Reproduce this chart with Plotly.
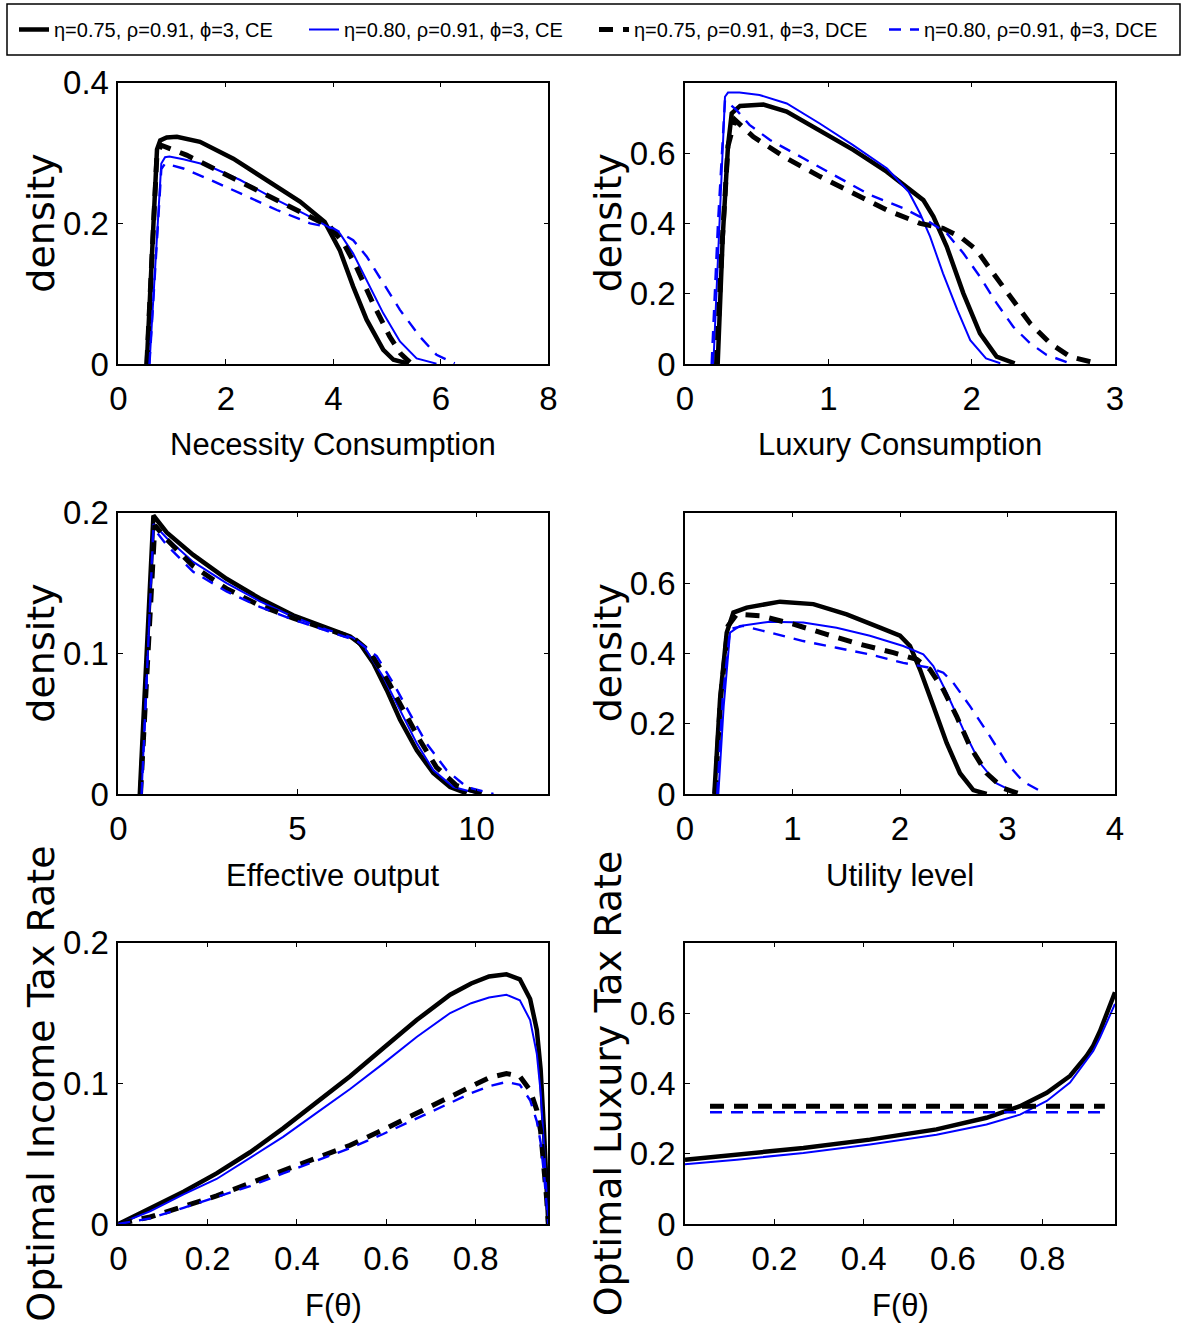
import plotly.graph_objects as go

W, H = 1188, 1331

# ---------------- data ----------------
legend_names = ["η=0.75, ρ=0.91, ϕ=3, CE", "η=0.80, ρ=0.91, ϕ=3, CE",
                "η=0.75, ρ=0.91, ϕ=3, DCE", "η=0.80, ρ=0.91, ϕ=3, DCE"]

# Panel 1: Necessity Consumption density
nec_ce75_x = [0.53, 0.62, 0.72, 0.78, 0.90, 1.09, 1.52, 2.14, 2.76, 3.38, 3.84, 4.12, 4.37, 4.62, 4.93, 5.12, 5.40]
nec_ce75_y = [0.0, 0.15, 0.305, 0.318, 0.322, 0.323, 0.316, 0.292, 0.262, 0.231, 0.202, 0.162, 0.110, 0.063, 0.020, 0.006, 0.0005]
nec_ce80_x = [0.58, 0.70, 0.80, 0.87, 0.95, 1.21, 1.64, 2.26, 2.88, 3.50, 3.88, 4.12, 4.37, 4.62, 4.93, 5.24, 5.55, 5.92]
nec_ce80_y = [0.0, 0.15, 0.285, 0.294, 0.295, 0.291, 0.283, 0.262, 0.236, 0.212, 0.196, 0.186, 0.157, 0.119, 0.072, 0.032, 0.008, 0.0005]
nec_dce75_x = [0.53, 0.62, 0.72, 0.80, 1.27, 1.83, 2.45, 3.07, 3.69, 3.94, 4.19, 4.43, 4.74, 5.05, 5.25, 5.43]
nec_dce75_y = [0.0, 0.15, 0.300, 0.311, 0.297, 0.276, 0.252, 0.228, 0.205, 0.195, 0.172, 0.138, 0.086, 0.039, 0.015, 0.002]
nec_dce80_x = [0.58, 0.70, 0.80, 0.87, 1.21, 1.71, 2.33, 2.95, 3.57, 4.00, 4.37, 4.62, 4.93, 5.24, 5.61, 5.92, 6.26]
nec_dce80_y = [0.0, 0.15, 0.277, 0.285, 0.278, 0.262, 0.240, 0.219, 0.200, 0.193, 0.176, 0.153, 0.115, 0.077, 0.039, 0.013, 0.001]

# Panel 2: Luxury Consumption density
lux_ce75_x = [0.228, 0.263, 0.30, 0.326, 0.384, 0.547, 0.709, 0.942, 1.174, 1.407, 1.57, 1.663, 1.733, 1.826, 1.942, 2.058, 2.174, 2.30]
lux_ce75_y = [0.0, 0.36, 0.62, 0.713, 0.734, 0.738, 0.718, 0.665, 0.609, 0.547, 0.495, 0.466, 0.419, 0.334, 0.201, 0.087, 0.021, 0.002]
lux_ce80_x = [0.198, 0.24, 0.279, 0.30, 0.38, 0.52, 0.71, 0.94, 1.17, 1.41, 1.56, 1.64, 1.71, 1.80, 1.90, 1.99, 2.10, 2.20]
lux_ce80_y = [0.0, 0.40, 0.760, 0.772, 0.772, 0.765, 0.741, 0.684, 0.623, 0.556, 0.490, 0.428, 0.362, 0.258, 0.154, 0.068, 0.016, 0.002]
lux_dce75_x = [0.22, 0.26, 0.30, 0.349, 0.477, 0.709, 0.942, 1.174, 1.407, 1.64, 1.80, 1.92, 2.035, 2.15, 2.267, 2.407, 2.547, 2.686, 2.872]
lux_dce75_y = [0.0, 0.35, 0.62, 0.694, 0.646, 0.585, 0.533, 0.485, 0.438, 0.400, 0.386, 0.362, 0.324, 0.258, 0.191, 0.116, 0.059, 0.021, 0.002]
lux_dce80_x = [0.186, 0.23, 0.279, 0.36, 0.45, 0.593, 0.826, 1.058, 1.29, 1.523, 1.686, 1.826, 1.942, 2.058, 2.174, 2.29, 2.407, 2.523, 2.686]
lux_dce80_y = [0.0, 0.40, 0.751, 0.722, 0.680, 0.637, 0.585, 0.533, 0.481, 0.443, 0.409, 0.372, 0.315, 0.248, 0.173, 0.106, 0.059, 0.026, 0.002]

# Panel 3: Effective output density
eff_ce75_x = [0.60, 0.79, 0.98, 1.35, 2.09, 3.02, 3.95, 4.88, 5.81, 6.47, 6.74, 7.12, 7.49, 7.86, 8.33, 8.79, 9.26, 9.72]
eff_ce75_y = [0.0, 0.10, 0.198, 0.186, 0.170, 0.153, 0.139, 0.127, 0.118, 0.112, 0.107, 0.093, 0.074, 0.053, 0.031, 0.015, 0.005, 0.0005]
eff_ce80_x = [0.65, 0.82, 0.98, 1.35, 2.09, 3.02, 3.95, 4.88, 5.81, 6.56, 6.93, 7.40, 7.86, 8.33, 8.79, 9.35, 10.09]
eff_ce80_y = [0.0, 0.10, 0.192, 0.182, 0.165, 0.150, 0.137, 0.126, 0.117, 0.111, 0.102, 0.083, 0.060, 0.036, 0.017, 0.005, 0.0]
eff_dce75_x = [0.62, 0.82, 1.02, 1.35, 2.09, 3.02, 3.95, 4.88, 5.81, 6.56, 7.02, 7.49, 7.95, 8.42, 8.88, 9.44, 10.19]
eff_dce75_y = [0.0, 0.10, 0.191, 0.181, 0.162, 0.146, 0.134, 0.125, 0.117, 0.111, 0.101, 0.082, 0.060, 0.038, 0.019, 0.006, 0.0]
eff_dce80_x = [0.65, 0.82, 0.98, 1.35, 2.09, 3.02, 3.95, 4.88, 5.81, 6.65, 7.21, 7.67, 8.14, 8.60, 9.16, 9.72, 10.47]
eff_dce80_y = [0.0, 0.10, 0.189, 0.177, 0.158, 0.144, 0.133, 0.124, 0.116, 0.109, 0.098, 0.079, 0.057, 0.036, 0.017, 0.005, 0.0]

# Panel 4: Utility level density
util_ce75_x = [0.273, 0.326, 0.388, 0.45, 0.574, 0.884, 1.194, 1.504, 1.814, 2.0, 2.093, 2.186, 2.31, 2.434, 2.558, 2.682, 2.806]
util_ce75_y = [0.0, 0.27, 0.459, 0.516, 0.530, 0.547, 0.540, 0.511, 0.473, 0.450, 0.421, 0.354, 0.250, 0.145, 0.059, 0.011, 0.0]
util_ce80_x = [0.31, 0.36, 0.419, 0.51, 0.79, 1.10, 1.41, 1.72, 2.03, 2.217, 2.31, 2.434, 2.589, 2.744, 2.899, 3.085]
util_ce80_y = [0.0, 0.25, 0.459, 0.478, 0.490, 0.488, 0.473, 0.450, 0.421, 0.397, 0.364, 0.288, 0.183, 0.088, 0.030, 0.002]
util_dce75_x = [0.28, 0.33, 0.40, 0.48, 0.70, 1.008, 1.318, 1.628, 1.938, 2.155, 2.279, 2.403, 2.527, 2.651, 2.806, 2.961, 3.116]
util_dce75_y = [0.0, 0.27, 0.478, 0.511, 0.507, 0.483, 0.454, 0.426, 0.402, 0.383, 0.354, 0.297, 0.221, 0.135, 0.059, 0.016, 0.0]
util_dce80_x = [0.30, 0.35, 0.419, 0.54, 0.79, 1.10, 1.41, 1.72, 2.03, 2.279, 2.403, 2.496, 2.651, 2.837, 2.992, 3.147, 3.333]
util_dce80_y = [0.0, 0.27, 0.469, 0.478, 0.459, 0.435, 0.416, 0.397, 0.373, 0.359, 0.345, 0.316, 0.250, 0.164, 0.088, 0.035, 0.004]

# Panel 5: Optimal income tax rate vs F(theta)
inc_f = [0, 0.071, 0.146, 0.22, 0.295, 0.369, 0.444, 0.519, 0.593, 0.668, 0.743, 0.79, 0.83, 0.869, 0.899, 0.922, 0.937, 0.9455, 0.953, 0.959, 0.9627]
inc_ce75 = [0, 0.011, 0.023, 0.036, 0.051, 0.068, 0.086, 0.105, 0.125, 0.145, 0.163, 0.171, 0.176, 0.1775, 0.174, 0.160, 0.138, 0.110, 0.067, 0.029, 0]
inc_ce80 = [0, 0.009, 0.021, 0.032, 0.047, 0.062, 0.079, 0.096, 0.114, 0.133, 0.150, 0.157, 0.161, 0.163, 0.159, 0.145, 0.121, 0.094, 0.056, 0.022, 0]
inc_dce75 = [0, 0.005, 0.0125, 0.020, 0.029, 0.038, 0.047, 0.056, 0.067, 0.079, 0.090, 0.098, 0.104, 0.107, 0.105, 0.095, 0.081, 0.066, 0.042, 0.018, 0]
inc_dce80 = [0, 0.004, 0.0115, 0.019, 0.027, 0.036, 0.045, 0.054, 0.064, 0.075, 0.086, 0.093, 0.098, 0.101, 0.099, 0.088, 0.073, 0.058, 0.036, 0.015, 0]

# Panel 6: Optimal luxury tax rate vs F(theta)
lt_f = [0, 0.116, 0.265, 0.414, 0.563, 0.675, 0.75, 0.81, 0.862, 0.899, 0.914, 0.929, 0.948, 0.9627]
lt_ce75 = [0.183, 0.197, 0.216, 0.240, 0.269, 0.302, 0.335, 0.373, 0.421, 0.478, 0.507, 0.548, 0.612, 0.659]
lt_ce80 = [0.170, 0.183, 0.202, 0.226, 0.254, 0.283, 0.311, 0.350, 0.402, 0.464, 0.492, 0.530, 0.583, 0.626]
lt_flat_f = [0.056, 0.94]
lt_dce75 = [0.335, 0.335]
lt_dce80 = [0.318, 0.318]

# axis ticks
nec_xticks = [0, 2, 4, 6, 8]
lux_xticks = [0, 1, 2, 3]
eff_xticks = [0, 5, 10]
util_xticks = [0, 1, 2, 3, 4]
f_xticks = [0, 0.2, 0.4, 0.6, 0.8]
y02_ticks = [0, 0.1, 0.2]
y04_ticks = [0, 0.2, 0.4]
y08_ticks = [0, 0.2, 0.4, 0.6]

# ---------------- styling ----------------
NARROW = "Liberation Sans, Arial, sans-serif"
WIDE = "DejaVu Sans, Liberation Sans, sans-serif"
BLUE = "#0000ff"
styles = [
    dict(color="black", width=4.5, dash="solid"),
    dict(color=BLUE, width=2, dash="solid"),
    dict(color="black", width=5, dash="14px,10px"),
    dict(color=BLUE, width=2.4, dash="12px,9px"),
]

panels = [
    dict(series=[(nec_ce75_x, nec_ce75_y), (nec_ce80_x, nec_ce80_y), (nec_dce75_x, nec_dce75_y), (nec_dce80_x, nec_dce80_y)],
         xr=[0, 8], yr=[0, 0.4], xt=nec_xticks, yt=y04_ticks, xlabel="Necessity Consumption", ylabel="density"),
    dict(series=[(lux_ce75_x, lux_ce75_y), (lux_ce80_x, lux_ce80_y), (lux_dce75_x, lux_dce75_y), (lux_dce80_x, lux_dce80_y)],
         xr=[0, 3], yr=[0, 0.8], xt=lux_xticks, yt=y08_ticks, xlabel="Luxury Consumption", ylabel="density"),
    dict(series=[(eff_ce75_x, eff_ce75_y), (eff_ce80_x, eff_ce80_y), (eff_dce75_x, eff_dce75_y), (eff_dce80_x, eff_dce80_y)],
         xr=[0, 12], yr=[0, 0.2], xt=eff_xticks, yt=y02_ticks, xlabel="Effective output", ylabel="density"),
    dict(series=[(util_ce75_x, util_ce75_y), (util_ce80_x, util_ce80_y), (util_dce75_x, util_dce75_y), (util_dce80_x, util_dce80_y)],
         xr=[0, 4], yr=[0, 0.8], xt=util_xticks, yt=y08_ticks, xlabel="Utility level", ylabel="density"),
    dict(series=[(inc_f, inc_ce75), (inc_f, inc_ce80), (inc_f, inc_dce75), (inc_f, inc_dce80)],
         xr=[0, 0.9627], yr=[0, 0.2], xt=f_xticks, yt=y02_ticks, xlabel="F(θ)", ylabel="Optimal Income Tax Rate"),
    dict(series=[(lt_f, lt_ce75), (lt_f, lt_ce80), (lt_flat_f, lt_dce75), (lt_flat_f, lt_dce80)],
         xr=[0, 0.9627], yr=[0, 0.8], xt=f_xticks, yt=y08_ticks, xlabel="F(θ)", ylabel="Optimal Luxury Tax Rate"),
]

cols = [(118.3, 548.3), (685.0, 1115.0)]
rows = [(82.7, 364.0), (512.7, 794.0), (942.7, 1224.0)]


def fmt(v):
    return "0" if v == 0 else ("%g" % v)


fig = go.Figure()
layout = dict(
    width=W, height=H, autosize=False,
    margin=dict(l=0, r=0, t=0, b=0, autoexpand=False),
    paper_bgcolor="white", plot_bgcolor="white",
    showlegend=True,
    legend=dict(orientation="h", x=0.5, xanchor="center", y=1 - 29.5 / H, yanchor="middle",
                font=dict(family=NARROW, size=20, color="black"),
                entrywidth=245, entrywidthmode="pixels",
                bgcolor="rgba(0,0,0,0)", borderwidth=0, tracegroupgap=0),
    shapes=[dict(type="rect", xref="paper", yref="paper", x0=7 / W, x1=1180 / W,
                 y0=1 - 55 / H, y1=1 - 4 / H, line=dict(color="black", width=1.5),
                 fillcolor="rgba(0,0,0,0)", layer="below")],
    annotations=[],
)

for i, p in enumerate(panels):
    r, c = divmod(i, 2)
    n = i + 1
    xa = "x" if n == 1 else "x%d" % n
    ya = "y" if n == 1 else "y%d" % n
    for j, (xs, ys) in enumerate(p["series"]):
        s = styles[j]
        fig.add_trace(go.Scatter(
            x=xs, y=ys, mode="lines", xaxis=xa, yaxis=ya,
            name=legend_names[j], legendgroup="s%d" % j, showlegend=(i == 0),
            line=dict(color=s["color"], width=s["width"], dash=s["dash"]),
            hoverinfo="skip"))
    common = dict(showline=True, linecolor="black", linewidth=1.5, mirror="allticks",
                  ticks="inside", ticklen=5, tickwidth=1, tickcolor="black",
                  showgrid=False, zeroline=False, fixedrange=True, automargin=False,
                  tickfont=dict(family=NARROW, size=33, color="black"))
    x0, x1 = cols[c]
    y0, y1 = rows[r]
    layout["xaxis" if n == 1 else "xaxis%d" % n] = dict(
        common, domain=[x0 / W, x1 / W], anchor=ya, range=p["xr"],
        tickvals=p["xt"], ticktext=[fmt(v) for v in p["xt"]], ticklabelstandoff=5)
    layout["yaxis" if n == 1 else "yaxis%d" % n] = dict(
        common, domain=[1 - y1 / H, 1 - y0 / H], anchor=xa, range=p["yr"],
        tickvals=p["yt"], ticktext=[fmt(v) for v in p["yt"]], ticklabelstandoff=1)
    # axis titles
    layout["annotations"].append(dict(
        text=p["xlabel"], xref=xa + " domain", yref=ya + " domain", x=0.5, y=0,
        yshift=-81, xanchor="center", yanchor="middle", showarrow=False,
        font=dict(family=NARROW, size=31, color="black")))
    layout["annotations"].append(dict(
        text=p["ylabel"], xref=xa + " domain", yref=ya + " domain", x=0, y=0.5,
        xshift=-77, xanchor="center", yanchor="middle", textangle=-90, showarrow=False,
        font=dict(family=WIDE, size=38, color="black")))

fig.update_layout(**layout)
fig.write_html("out.html", config={"displayModeBar": False},
               post_script="document.body.style.margin='0px';document.body.style.padding='0px';")
